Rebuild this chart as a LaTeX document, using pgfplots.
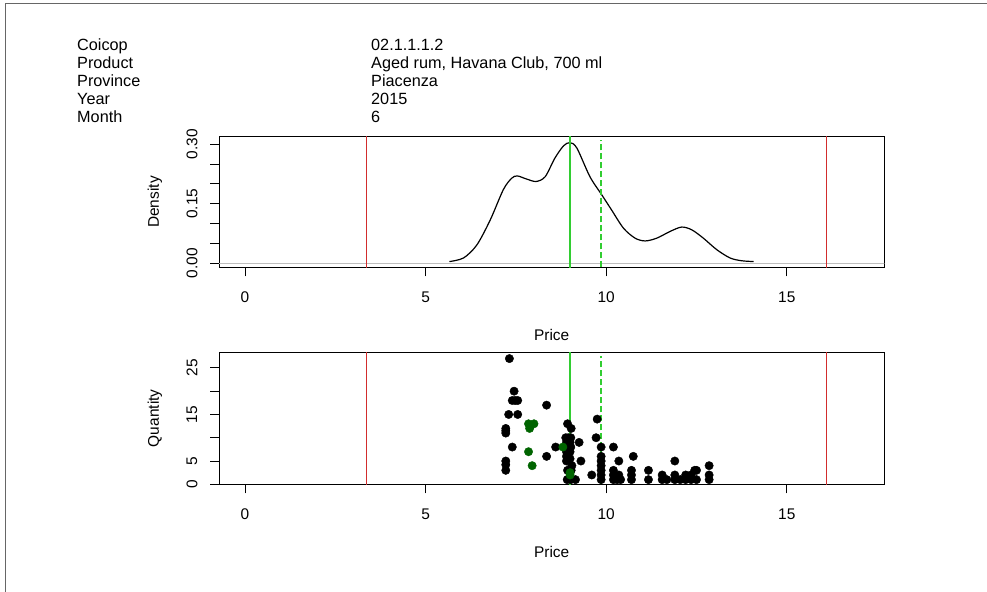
\documentclass[border=0pt]{standalone}
\usepackage{pgfplots}
\pgfplotsset{compat=1.18}
\usepackage{fontspec}
\setmainfont{Liberation Sans}
\definecolor{rline}{RGB}{210,45,45}
\definecolor{gline}{RGB}{50,205,50}
\definecolor{dgreen}{RGB}{0,100,0}
\definecolor{zline}{RGB}{190,190,190}
\begin{document}
\begin{tikzpicture}[font=\fontsize{15.5}{18}\selectfont]
\path[use as bounding box] (0bp,0bp) rectangle (987bp,592bp);
\draw[gray!80!black,line width=1bp] (5bp,0bp) -- (5bp,588bp) -- (987bp,588bp);
% header
\foreach \k/\a/\b in {0/Coicop/02.1.1.1.2,1/Product/{Aged rum, Havana Club, 700 ml},2/Province/Piacenza,3/Year/2015,4/Month/6}{
  \pgfmathsetmacro{\yy}{592-50.7-18*\k}
  \node[anchor=base west,inner sep=0pt,font=\fontsize{16.3}{18}\selectfont] at (77bp,\yy bp) {\a};
  \node[anchor=base west,inner sep=0pt,font=\fontsize{16.3}{18}\selectfont] at (371bp,\yy bp) {\b};
}
\pgfplotsset{
  every axis/.append style={
    scale only axis, width=665.3bp,
    axis line style={line width=1bp},
    tick style={line width=1bp,black},
    tick align=outside, major tick length=9bp,
    xtick pos=bottom, ytick pos=left,
    xtick={0,5,10,15},
    xmin=-0.72, xmax=17.70,
    x tick label style={/pgf/number format/assume math mode=true},
    y tick label style={/pgf/number format/assume math mode=true},
    xticklabel style={anchor=center},
    yticklabel style={anchor=center,rotate=90},
    xticklabel shift=21bp,
    yticklabel shift=18bp,
    xlabel={Price},
    ylabel style={rotate=0,anchor=center},
    xlabel style={anchor=center},
    tick label style={font=\fontsize{15.5}{18}\selectfont},
    label style={font=\fontsize{15.5}{18}\selectfont},
  }
}
% top: density
\begin{axis}[at={(219bp,324.7bp)}, anchor=south west, height=130.6bp,
  ymin=-0.0105, ymax=0.319,
  ytick={0,0.05,0.10,0.15,0.20,0.25,0.30},
  yticklabels={0.00,,,0.15,,,0.30},
  ylabel={Density},
  ylabel style={at={(axis description cs:-0.0962,0.5)}},
  xlabel style={at={(axis description cs:0.5,-0.521)}},
  clip=true]
\addplot[zline, line width=1bp] coordinates {(-1,0) (18,0)};
\addplot[black, line width=1.2bp, smooth, tension=0.5] coordinates {
(5.66,0.004) (6.05,0.013) (6.42,0.046) (6.79,0.109) (7.15,0.185) (7.38,0.214) (7.54,0.220) (7.80,0.212) (8.06,0.206) (8.31,0.218) (8.58,0.265) (8.82,0.296) (9.00,0.304) (9.19,0.290) (9.55,0.218) (9.88,0.172) (10.15,0.134) (10.48,0.088) (10.80,0.063) (11.08,0.056) (11.40,0.063) (11.77,0.080) (12.09,0.091) (12.37,0.084) (12.69,0.063) (13.06,0.034) (13.43,0.013) (13.75,0.006) (14.08,0.004)};
\addplot[rline, line width=1bp] coordinates {(3.37,-1) (3.37,1)};
\addplot[rline, line width=1bp] coordinates {(16.10,-1) (16.10,1)};
\addplot[gline, line width=1.2bp] coordinates {(9.00,-1) (9.00,1)};
\addplot[draw=gline, line width=1.5bp, dash pattern=on 6bp off 3bp] coordinates {(9.86,-0.0105) (9.86,0.31)};
\end{axis}
% bottom: scatter
\begin{axis}[at={(219bp,107.7bp)}, anchor=south west, height=132bp,
  ymin=0, ymax=28.35,
  ytick={0,5,10,15,20,25},
  yticklabels={0,5,,15,,25},
  ylabel={Quantity},
  ylabel style={at={(axis description cs:-0.0962,0.5)}},
  xlabel style={at={(axis description cs:0.5,-0.515)}},
  clip=true]
\addplot[only marks, mark=*, mark size=4.2bp, black] coordinates {
(7.32,27) (7.45,20) (7.40,18) (7.48,18) (7.55,18) (7.30,15) (7.55,15) (7.22,12) (7.22,11.5) (7.22,11) (7.40,8) (7.22,5) (7.22,4.2) (7.22,3)
(8.35,17) (8.35,6) (8.60,8)
(8.93,13) (9.03,12) (8.88,10) (8.95,10) (9.02,10) (8.90,9) (9.00,9) (8.95,8) (9.02,8) (8.90,7) (9.00,7) (8.90,6) (8.90,5) (9.00,5.5) (9.05,4) (8.93,3) (9.03,3) (8.92,1) (9.02,1)
(9.25,9) (9.30,5) (9.15,1) (9.60,2) (9.75,14) (9.72,10)
(9.86,8) (9.86,6) (9.86,5) (9.86,4) (9.86,3) (9.86,2) (9.86,1)
(10.20,8) (10.35,5) (10.75,6) (10.20,3) (10.20,2) (10.20,1) (10.35,2) (10.40,1) (10.30,1) (10.70,3) (10.70,2) (10.70,1)
(11.17,3) (11.17,1) (11.55,2) (11.55,1) (11.68,1) (11.90,5) (11.90,2) (11.90,1) (12.05,1) (12.20,2) (12.20,1) (12.35,2) (12.45,3) (12.50,3) (12.35,1) (12.50,1) (12.85,4) (12.85,2) (12.85,1)};
\addplot[only marks, mark=*, mark size=4.2bp, dgreen, mark options={draw=dgreen,fill=dgreen}] coordinates {
(7.85,13) (8.00,13) (7.90,12.5) (7.88,12) (7.85,7) (7.95,4) (8.80,8) (9.00,2.5) (9.00,2)};
\addplot[rline, line width=1bp] coordinates {(3.37,-5) (3.37,40)};
\addplot[rline, line width=1bp] coordinates {(16.10,-5) (16.10,40)};
\addplot[gline, line width=1.2bp] coordinates {(9.00,-5) (9.00,40)};
\addplot[draw=gline, line width=1.5bp, dash pattern=on 6bp off 3bp] coordinates {(9.86,0) (9.86,27.5)};
\end{axis}
\end{tikzpicture}
\end{document}
